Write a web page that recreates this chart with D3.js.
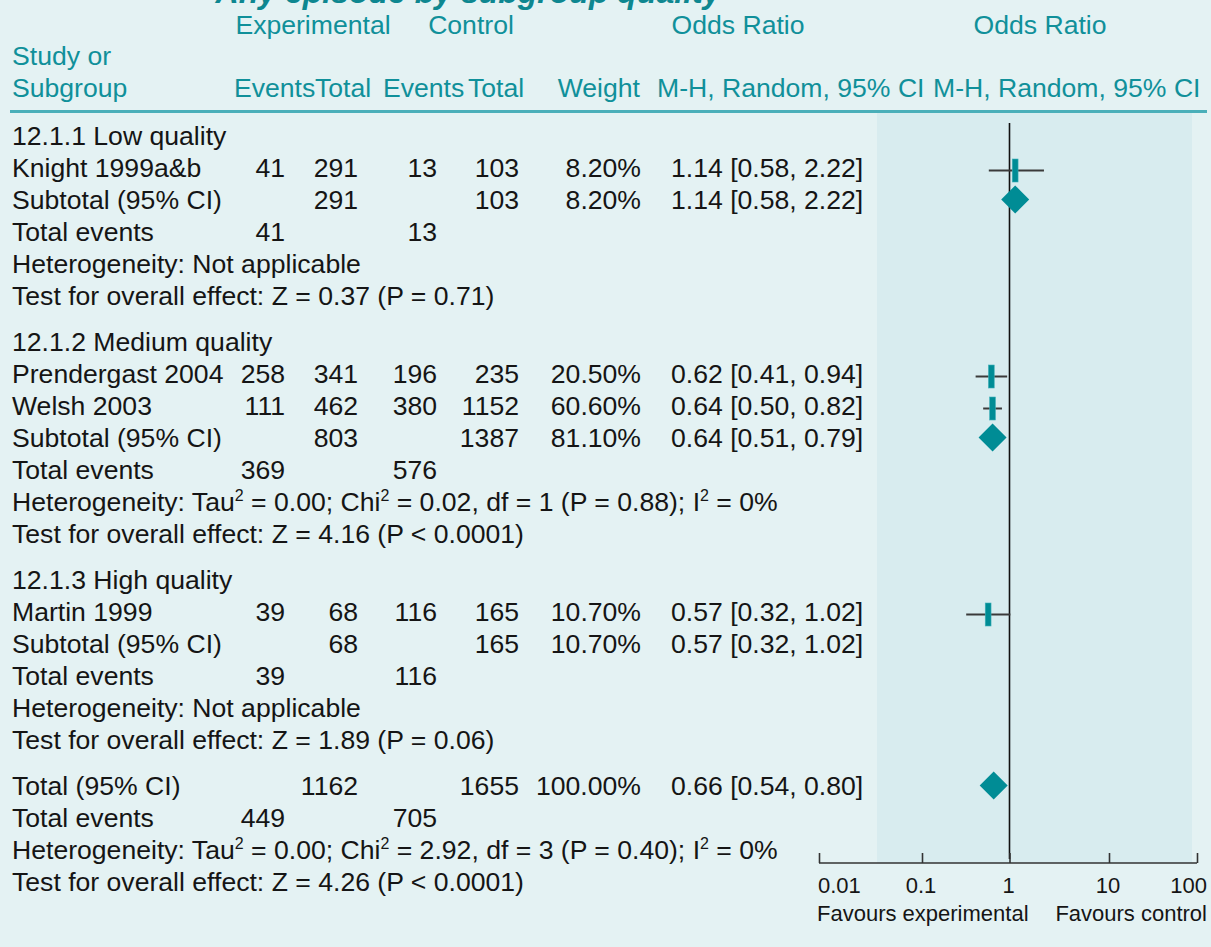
<!DOCTYPE html>
<html>
<head>
<meta charset="utf-8">
<script src="https://cdn.jsdelivr.net/npm/d3@7"></script>
<style>
  html, body { margin: 0; padding: 0; background: #e4f2f3; }
  svg { display: block; }
</style>
</head>
<body>
<svg id="chart" width="1211" height="947"></svg>
<script>
// ---------------- DATA ----------------
const titleText = "Any episode by subgroup quality";
const rowLabels = [
  "12.1.1 Low quality",
  "Knight 1999a&b",
  "Subtotal (95% CI)",
  "Total events",
  "Heterogeneity: Not applicable",
  "Test for overall effect: Z = 0.37 (P = 0.71)",
  "12.1.2 Medium quality",
  "Prendergast 2004",
  "Welsh 2003",
  "Subtotal (95% CI)",
  "Total events",
  "Heterogeneity: Tau^2 = 0.00; Chi^2 = 0.02, df = 1 (P = 0.88); I^2 = 0%",
  "Test for overall effect: Z = 4.16 (P < 0.0001)",
  "12.1.3 High quality",
  "Martin 1999",
  "Subtotal (95% CI)",
  "Total events",
  "Heterogeneity: Not applicable",
  "Test for overall effect: Z = 1.89 (P = 0.06)",
  "Total (95% CI)",
  "Total events",
  "Heterogeneity: Tau^2 = 0.00; Chi^2 = 2.92, df = 3 (P = 0.40); I^2 = 0%",
  "Test for overall effect: Z = 4.26 (P < 0.0001)"
];
// block index of each row (blocks are separated by a gap)
const rowBlock = [0,0,0,0,0,0, 1,1,1,1,1,1,1, 2,2,2,2,2,2, 3,3,3,3];
// marker kind drawn for each row: "study" square, "pooled" diamond, or null
const rowMarker = [null,"study","pooled",null,null,null,
                   null,"study","study","pooled",null,null,null,
                   null,"study",null,null,null,null,
                   "pooled",null,null,null];
const expEvents  = [null,41,null,41,null,null, null,258,111,null,369,null,null, null,39,null,39,null,null, null,449,null,null];
const expTotal   = [null,291,291,null,null,null, null,341,462,803,null,null,null, null,68,68,null,null,null, 1162,null,null,null];
const ctrlEvents = [null,13,null,13,null,null, null,196,380,null,576,null,null, null,116,null,116,null,null, null,705,null,null];
const ctrlTotal  = [null,103,103,null,null,null, null,235,1152,1387,null,null,null, null,165,165,null,null,null, 1655,null,null,null];
const weights    = [null,8.20,8.20,null,null,null, null,20.50,60.60,81.10,null,null,null, null,10.70,10.70,null,null,null, 100.00,null,null,null];
const orEst      = [null,1.14,1.14,null,null,null, null,0.62,0.64,0.64,null,null,null, null,0.57,0.57,null,null,null, 0.66,null,null,null];
const orLow      = [null,0.58,0.58,null,null,null, null,0.41,0.50,0.51,null,null,null, null,0.32,0.32,null,null,null, 0.54,null,null,null];
const orHigh     = [null,2.22,2.22,null,null,null, null,0.94,0.82,0.79,null,null,null, null,1.02,1.02,null,null,null, 0.80,null,null,null];
const axisTicks  = [0.01, 0.1, 1, 10, 100];
const favoursLeft = "Favours experimental";
const favoursRight = "Favours control";

// ---------------- LAYOUT ----------------
const FONT = "'Liberation Sans', Arial, Helvetica, sans-serif";
const FS = 26.6;
const TEAL_TEXT = "#10909a";
const TEAL_MARK = "#008c95";
const INK = "#151515";
const STEP = 32, GAP = 14;

const svg = d3.select("#chart");

// row position scale (row index + block gaps -> y baseline)
const nRows = rowLabels.length;
const lastPos = (nRows - 1) + rowBlock[nRows - 1] * GAP / STEP;
const y = d3.scaleLinear().domain([0, lastPos]).range([145, 891]);
const rowY = i => y(i + rowBlock[i] * GAP / STEP);

// odds-ratio log scale (piecewise, matching the reference axis)
const x = d3.scaleLog().domain(axisTicks).range([819, 922, 1009.5, 1109, 1197]);

// background of plot region
svg.append("rect").attr("x", 877).attr("y", 113).attr("width", 1192 - 877).attr("height", 863 - 113)
  .attr("fill", "#d8ecef");

// title (cut off at top)
svg.append("text").attr("x", 468).attr("y", 3).attr("text-anchor", "middle")
  .attr("font-family", FONT).attr("font-size", 32).attr("font-weight", "bold").attr("font-style", "italic")
  .attr("fill", "#0e8790").text(titleText);

// header texts
const hdr = svg.append("g").attr("font-family", FONT).attr("font-size", FS).attr("fill", TEAL_TEXT);
const headerItems = [
  ["Experimental", 313, 34, "middle"],
  ["Control", 471, 34, "middle"],
  ["Odds Ratio", 738, 34, "middle"],
  ["Odds Ratio", 1040, 34, "middle"],
  ["Study or", 12, 65, "start"],
  ["Subgroup", 12, 97, "start"],
  ["Events", 234, 97, "start"],
  ["Total", 315, 97, "start"],
  ["Events", 383, 97, "start"],
  ["Total", 468, 97, "start"],
  ["Weight", 640, 97, "end"],
  ["M-H, Random, 95% CI", 657, 97, "start"],
  ["M-H, Random, 95% CI", 933, 97, "start"]
];
hdr.selectAll("text").data(headerItems).join("text")
  .attr("x", d => d[1]).attr("y", d => d[2]).attr("text-anchor", d => d[3]).text(d => d[0]);

// header rule
svg.append("line").attr("x1", 10).attr("x2", 1207).attr("y1", 111.5).attr("y2", 111.5)
  .attr("stroke", "#4aafb9").attr("stroke-width", 3);

// body text
const body = svg.append("g").attr("font-family", FONT).attr("font-size", FS).attr("fill", INK);
rowLabels.forEach((lab, i) => {
  const t = body.append("text").attr("x", 12).attr("y", rowY(i));
  const parts = lab.split("^2");
  parts.forEach((p, k) => {
    const sp = t.append("tspan").text(p);
    if (k > 0) sp.attr("dy", 10);
    if (k < parts.length - 1) {
      t.append("tspan").attr("font-size", 16).attr("dy", -10).text("2");
    }
  });
});

function numCol(arr, xr, fmt) {
  body.append("g").selectAll("text").data(arr.map((v, i) => ({v, i})).filter(d => d.v != null))
    .join("text").attr("x", xr).attr("y", d => rowY(d.i)).attr("text-anchor", "end")
    .text(d => fmt ? fmt(d.v) : d.v);
}
numCol(expEvents, 285);
numCol(expTotal, 358);
numCol(ctrlEvents, 437);
numCol(ctrlTotal, 519);
numCol(weights, 641, v => d3.format(".2f")(v) + "%");
const f2 = d3.format(".2f");
body.append("g").selectAll("text").data(orEst.map((v, i) => ({v, i})).filter(d => d.v != null))
  .join("text").attr("x", 671).attr("y", d => rowY(d.i))
  .text(d => `${f2(d.v)} [${f2(orLow[d.i])}, ${f2(orHigh[d.i])}]`);

// line of no effect
svg.append("line").attr("x1", x(1)).attr("x2", x(1)).attr("y1", 123).attr("y2", 859)
  .attr("stroke", "#111").attr("stroke-width", 1.6);

// study CIs and squares
const marks = svg.append("g");
const studyRows = rowMarker.map((m, i) => ({m, i})).filter(d => d.m === "study");
marks.selectAll("line.ci").data(studyRows).join("line").attr("class", "ci")
  .attr("x1", d => x(orLow[d.i])).attr("x2", d => x(orHigh[d.i]))
  .attr("y1", d => rowY(d.i) - 6.5).attr("y2", d => rowY(d.i) - 6.5)
  .attr("stroke", "#3a3a3a").attr("stroke-width", 2);
marks.selectAll("rect.sq").data(studyRows).join("rect").attr("class", "sq")
  .attr("x", d => x(orEst[d.i]) - 2.9).attr("width", 5.8)
  .attr("y", d => rowY(d.i) - 6.5 - 11.5).attr("height", 23)
  .attr("fill", TEAL_MARK).attr("stroke", "#3fb0b8").attr("stroke-width", 0.6);

// pooled diamonds
const pooledRows = rowMarker.map((m, i) => ({m, i})).filter(d => d.m === "pooled");
marks.selectAll("path.dia").data(pooledRows).join("path").attr("class", "dia")
  .attr("d", d => {
    const cx = x(orEst[d.i]), cy = rowY(d.i) - 9.5, h = 14;
    return `M${cx - h},${cy}L${cx},${cy - h}L${cx + h},${cy}L${cx},${cy + h}Z`;
  })
  .attr("fill", TEAL_MARK);

// x axis
const axisG = svg.append("g").attr("transform", "translate(0,863)");
axisG.call(d3.axisTop(x).tickValues(axisTicks).tickSize(10).tickFormat(""));
axisG.select(".domain").attr("d", `M${x(0.01)},0H${x(100)}`).attr("stroke", "#333").attr("stroke-width", 1.6);
axisG.selectAll(".tick line").attr("stroke", "#333").attr("stroke-width", 1.6);

const lbl = svg.append("g").attr("font-family", FONT).attr("font-size", 22).attr("fill", INK);
lbl.selectAll("text").data(axisTicks).join("text")
  .attr("x", (d, i) => i === 0 ? x(d) - 1 : (i === axisTicks.length - 1 ? x(d) + 10 : x(d) - 1))
  .attr("y", 893)
  .attr("text-anchor", (d, i) => i === 0 ? "start" : (i === axisTicks.length - 1 ? "end" : "middle"))
  .text(d => d3.format("~g")(d));
lbl.append("text").attr("x", 817).attr("y", 921).text(favoursLeft);
lbl.append("text").attr("x", 1207).attr("y", 921).attr("text-anchor", "end").text(favoursRight);
</script>
</body>
</html>
